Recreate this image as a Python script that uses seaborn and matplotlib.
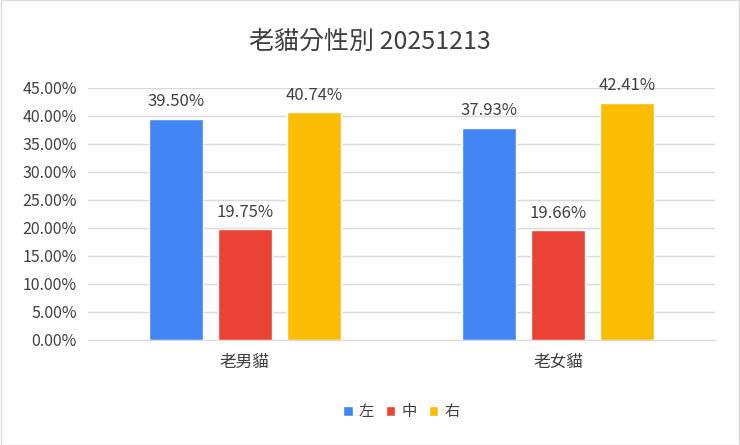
import matplotlib
matplotlib.use('Agg')
import matplotlib.pyplot as plt
import seaborn as sns
import pandas as pd

categories = ['老男貓', '老女貓']
series = ['左', '中', '右']
values = {
    '左': [0.3950, 0.3793],
    '中': [0.1975, 0.1966],
    '右': [0.4074, 0.4241],
}
colors = ['#4285F4', '#EA4335', '#FBBC04']
title = '老貓分性別 20251213'

rows = []
for s in series:
    for c, v in zip(categories, values[s]):
        rows.append({'cat': c, 'side': s, 'val': v})
df = pd.DataFrame(rows)

sns.set_style('white')
plt.rcParams['font.family'] = ['Noto Sans CJK TC', 'DejaVu Sans']

fig = plt.figure(figsize=(7.4, 4.45), dpi=100)
ax = fig.add_axes([88 / 740, 1 - 340 / 445, 627 / 740, 252 / 445])
sns.barplot(data=df, x='cat', y='val', hue='side', palette=colors,
            width=0.66, gap=0.22, ax=ax, legend=True, saturation=1)

for cont in ax.containers:
    ax.bar_label(cont, labels=[f'{v * 100:.2f}%' for v in cont.datavalues],
                 padding=6, fontsize=12, color='#404040')

ax.set_ylim(0, 0.45)
ax.set_xlim(-0.5, 1.5)
ax.set_yticks([i * 0.05 for i in range(10)])
ax.set_yticklabels([f'{i * 5:.2f}%' for i in range(10)], fontsize=11.5, color='#404040')
ax.tick_params(axis='x', labelsize=12, labelcolor='#404040', length=0, pad=10)
ax.tick_params(axis='y', length=0, pad=8)
ax.yaxis.grid(True, color='#D9D9D9', linewidth=1)
ax.set_axisbelow(True)
for side in ['top', 'right', 'left']:
    ax.spines[side].set_visible(False)
ax.spines['bottom'].set_color('#D9D9D9')
ax.set_xlabel('')
ax.set_ylabel('')

leg = ax.legend(loc='center', bbox_to_anchor=(0.5, -0.285), ncol=3, frameon=False,
                fontsize=11, handlelength=0.6, handleheight=0.6, handletextpad=0.4,
                columnspacing=0.8)
for t in leg.get_texts():
    t.set_color('#404040')

fig.text(0.5, 1 - 42 / 445, title, ha='center', va='center', fontsize=18, color='#404040')
fig.patches.append(plt.Rectangle((0.001, 0.001), 0.998, 0.998, transform=fig.transFigure,
                                 fill=False, edgecolor='#D9D9D9', linewidth=1))

fig.savefig('out.png', dpi=100)
